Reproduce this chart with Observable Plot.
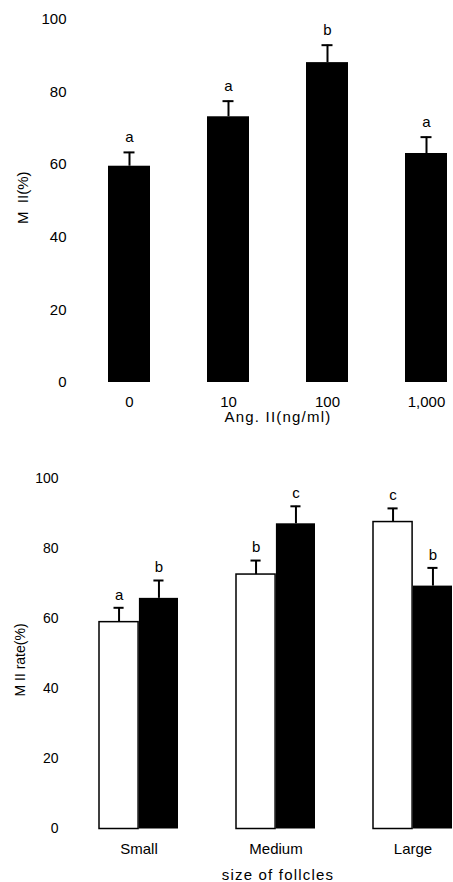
<!DOCTYPE html>
<html><head><meta charset="utf-8">
<script src="https://cdn.jsdelivr.net/npm/d3@7"></script>
<script src="https://cdn.jsdelivr.net/npm/@observablehq/plot@0.6"></script>
<style>body{margin:0;background:#fff}svg{display:block}</style>
</head><body><div id="c"></div>
<script>
// Panel 1: dose response
const doses = ["0", "10", "100", "1,000"];
const doseMean = [59.5, 73.1, 88.0, 63.0];
const doseErr = [3.8, 4.3, 4.8, 4.5];
const doseLetter = ["a", "a", "b", "a"];

// Panel 2: follicle size
const sizes = ["Small", "Medium", "Large"];
const ctrlMean = [59.1, 72.7, 87.7];
const ctrlErr = [4.1, 4.0, 3.9];
const ctrlLetter = ["a", "b", "c"];
const angMean = [65.9, 87.2, 69.4];
const angErr = [5.1, 5.0, 5.2];
const angLetter = ["b", "c", "b"];

const yTicks = [0, 20, 40, 60, 80, 100];
const titles = {x1: "Ang. II(ng/ml)", y1: "M  II(%)", x2: "size of follcles", y2: "M II rate(%)"};

const font = "'Liberation Sans', Arial, Helvetica, sans-serif";
const topRows = doses.map((d, i) => ({dose: d, mean: doseMean[i], hi: doseMean[i] + doseErr[i], letter: doseLetter[i]}));
const ctrlRows = sizes.map((s, i) => ({size: s, mean: ctrlMean[i], hi: ctrlMean[i] + ctrlErr[i], letter: ctrlLetter[i]}));
const angRows = sizes.map((s, i) => ({size: s, mean: angMean[i], hi: angMean[i] + angErr[i], letter: angLetter[i]}));

const p1 = Plot.plot({
  width: 453, height: 440,
  marginLeft: 107, marginRight: 5, marginTop: 18.5, marginBottom: 58,
  style: {fontFamily: font, fontSize: "15px", color: "#000", background: "#fff", overflow: "visible"},
  x: {domain: doses, paddingInner: 0.58, paddingOuter: 0, label: null, tickSize: 0, tickPadding: 14},
  y: {domain: [0, 100], ticks: yTicks, label: null, tickSize: 0, tickPadding: 41},
  marks: [
    Plot.barY(topRows, {x: "dose", y: "mean", fill: "#000"}),
    Plot.ruleX(topRows, {x: "dose", y1: "mean", y2: "hi", stroke: "#000", strokeWidth: 2}),
    Plot.tickY(topRows, {x: "dose", y: "hi", stroke: "#000", strokeWidth: 2, insetLeft: 15.5, insetRight: 15.5}),
    Plot.text(topRows, {x: "dose", y: "hi", text: "letter", dy: -15, fontSize: 15}),
    Plot.text([titles.x1], {frameAnchor: "bottom", lineAnchor: "middle", text: d => d, dy: 35, fontSize: 15}),
    Plot.text([titles.y1], {frameAnchor: "left", textAnchor: "middle", lineAnchor: "middle", text: d => d, dx: -84, dy: -3, rotate: -90, fontSize: 15})
  ]
});

const half = 39.9;
const p2 = Plot.plot({
  width: 453, height: 442,
  marginLeft: 98, marginRight: 0, marginTop: 38.5, marginBottom: 53.5,
  style: {fontFamily: font, fontSize: "14px", color: "#000", background: "#fff", overflow: "visible"},
  x: {domain: sizes, paddingInner: 0.42, paddingOuter: 0, label: null, tickSize: 0, tickPadding: 14},
  y: {domain: [0, 100], ticks: yTicks, label: null, tickSize: 0, tickPadding: 40},
  marks: [
    Plot.barY(ctrlRows, {x: "size", y: "mean", fill: "#fff", stroke: "#000", strokeWidth: 1.5, insetRight: half}),
    Plot.barY(angRows, {x: "size", y: "mean", fill: "#000", insetLeft: half}),
    Plot.ruleX(ctrlRows, {x: "size", y1: "mean", y2: "hi", stroke: "#000", strokeWidth: 2, dx: -half / 2}),
    Plot.ruleX(angRows, {x: "size", y1: "mean", y2: "hi", stroke: "#000", strokeWidth: 2, dx: half / 2}),
    Plot.tickY(ctrlRows, {x: "size", y: "hi", stroke: "#000", strokeWidth: 2, insetLeft: 14.5, insetRight: half + 14.5}),
    Plot.tickY(angRows, {x: "size", y: "hi", stroke: "#000", strokeWidth: 2, insetLeft: half + 14.5, insetRight: 14.5}),
    Plot.text(ctrlRows, {x: "size", y: "hi", text: "letter", dx: -half / 2, dy: -13, fontSize: 15}),
    Plot.text(angRows, {x: "size", y: "hi", text: "letter", dx: half / 2, dy: -13, fontSize: 15}),
    Plot.text([titles.x2], {frameAnchor: "bottom", lineAnchor: "middle", text: d => d, dx: 2, dy: 46, fontSize: 15}),
    Plot.text([titles.y2], {frameAnchor: "left", textAnchor: "middle", lineAnchor: "middle", text: d => d, dx: -78, dy: 6, rotate: -90, fontSize: 14})
  ]
});

// bottom panel category labels are slightly larger than its numeric ticks
p2.querySelectorAll('[aria-label^="x-axis"] text').forEach(t => t.setAttribute("font-size", 15));
[p1, p2].forEach(svg => {
  svg.querySelectorAll("text").forEach(t => {
    if (t.textContent === titles.x1 || t.textContent === titles.x2) t.setAttribute("letter-spacing", "1.2");
  });
});
document.getElementById("c").append(p1, p2);
</script>
</body></html>
